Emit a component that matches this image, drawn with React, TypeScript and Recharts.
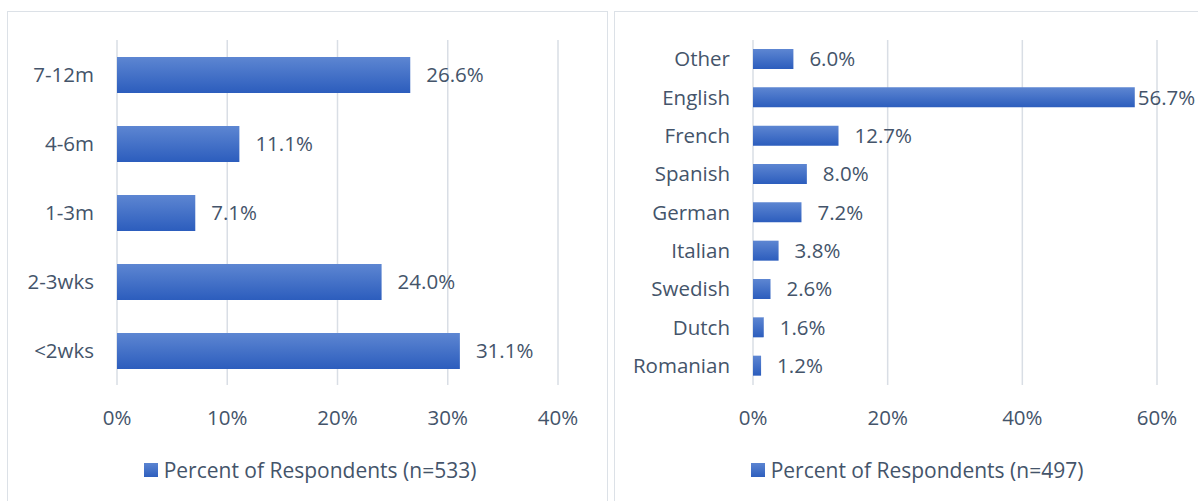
import React from 'react';
import { BarChart, Bar, XAxis, YAxis, CartesianGrid, Legend, LabelList } from 'recharts';

const durationCategories = ['7-12m', '4-6m', '1-3m', '2-3wks', '<2wks'];
const durationValues = [26.6, 11.1, 7.1, 24.0, 31.1];
const durationTicks = [0, 10, 20, 30, 40];
const durationLegend = 'Percent of Respondents (n=533)';

const languageCategories = ['Other', 'English', 'French', 'Spanish', 'German', 'Italian', 'Swedish', 'Dutch', 'Romanian'];
const languageValues = [6.0, 56.7, 12.7, 8.0, 7.2, 3.8, 2.6, 1.6, 1.2];
const languageTicks = [0, 20, 40, 60];
const languageLegend = 'Percent of Respondents (n=497)';

const TEXT = '#44546A';
const GRID = '#D9DEE5';
const FONT = '"Open Sans", Lato, sans-serif';
const FS = 20.5;
const LFS = 21;

const makeLabel = (chartWidth: number) => (props: any) => {
  const { x, y, width, height, value } = props;
  const end = Number(x) + Number(width);
  const off = end + 16 + 56 > chartWidth ? 3 : 16;
  return (
    <text x={end + off} y={Number(y) + Number(height) / 2} dy="0.35em" fill={TEXT} fontSize={FS} fontFamily={FONT}>
      {Number(value).toFixed(1)}%
    </text>
  );
};

const makeLegend = (text: string) => () => (
  <div style={{ height: 56, width: 604, display: 'flex', justifyContent: 'center', alignItems: 'flex-start', paddingTop: 13, boxSizing: 'border-box', fontFamily: FONT }}>
    <div style={{ display: 'flex', alignItems: 'center' }}>
      <span style={{ display: 'inline-block', width: 14, height: 14, background: 'linear-gradient(#5B84D1, #2E5FBE)', marginRight: 6 }} />
      <span style={{ color: TEXT, fontSize: LFS, lineHeight: '24px' }}>{text}</span>
    </div>
  </div>
);

interface PanelProps {
  categories: string[];
  values: number[];
  ticks: number[];
  legend: string;
  width: number;
  yWidth: number;
  rightMargin: number;
  barSize: number;
  gid: string;
}

function Panel({ categories, values, ticks, legend, width, yWidth, rightMargin, barSize, gid }: PanelProps) {
  const data = categories.map((c, i) => ({ name: c, value: values[i] }));
  return (
    <BarChart
      width={width}
      height={489}
      data={data}
      layout="vertical"
      margin={{ top: 28, right: rightMargin, left: 0, bottom: 0 }}
      style={{ fontFamily: FONT }}
    >
      <defs>
        <linearGradient id={gid} x1="0" y1="0" x2="0" y2="1">
          <stop offset="0%" stopColor="#5D86D2" />
          <stop offset="100%" stopColor="#2C5DBD" />
        </linearGradient>
      </defs>
      <CartesianGrid horizontal={false} stroke={GRID} strokeWidth={1.5} />
      <XAxis
        type="number"
        domain={[ticks[0], ticks[ticks.length - 1]]}
        ticks={ticks}
        tickFormatter={(v: number) => `${v}%`}
        axisLine={false}
        tickLine={false}
        tickSize={0}
        tickMargin={25}
        height={60}
        tick={{ fill: TEXT, fontSize: FS }}
      />
      <YAxis
        type="category"
        dataKey="name"
        width={yWidth}
        axisLine={false}
        tickLine={false}
        tickSize={0}
        tickMargin={23}
        tick={{ fill: TEXT, fontSize: FS }}
      />
      <Legend verticalAlign="bottom" height={56} wrapperStyle={{ left: 0, width: 604 }} content={makeLegend(legend)} />
      <Bar dataKey="value" fill={`url(#${gid})`} barSize={barSize} isAnimationActive={false}>
        <LabelList dataKey="value" content={makeLabel(width)} />
      </Bar>
    </BarChart>
  );
}

export default function App() {
  return (
    <div style={{ position: 'absolute', left: 0, top: 0, width: 1198, height: 501, overflow: 'hidden', background: '#fff' }}>
      <div style={{ position: 'absolute', left: 7, top: 11, width: 599, height: 520, border: '1.5px solid #DCE1E7' }} />
      <div style={{ position: 'absolute', left: 614, top: 11, width: 600, height: 520, border: '1.5px solid #DCE1E7' }} />
      <div style={{ position: 'absolute', left: 8, top: 12 }}>
        <Panel
          categories={durationCategories}
          values={durationValues}
          ticks={durationTicks}
          legend={durationLegend}
          width={599}
          yWidth={109}
          rightMargin={49}
          barSize={36}
          gid="gradL"
        />
      </div>
      <div style={{ position: 'absolute', left: 615, top: 12 }}>
        <Panel
          categories={languageCategories}
          values={languageValues}
          ticks={languageTicks}
          legend={languageLegend}
          width={583}
          yWidth={138}
          rightMargin={41}
          barSize={20}
          gid="gradR"
        />
      </div>
    </div>
  );
}
